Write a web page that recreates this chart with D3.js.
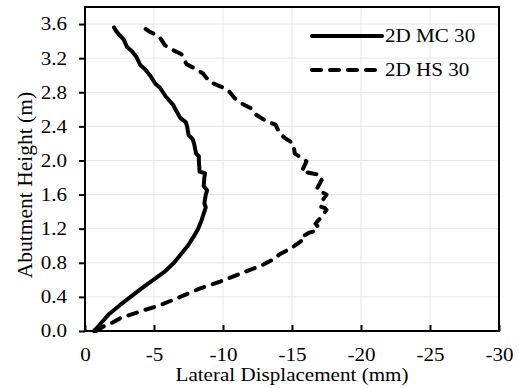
<!DOCTYPE html>
<html>
<head>
<meta charset="utf-8">
<script src="https://cdn.jsdelivr.net/npm/d3@7"></script>
<style>
  html, body { margin: 0; padding: 0; background: #fff; }
  svg { display: block; }
  text { font-family: "Liberation Serif", "Times New Roman", serif; fill: #000; }
</style>
</head>
<body>
<svg id="chart" width="519" height="388"></svg>
<script>
// ---- data ----
const xTicks = [0, -5, -10, -15, -20, -25, -30];
const xTickLabels = ["0", "-5", "-10", "-15", "-20", "-25", "-30"];
const yTicks = [0.0, 0.4, 0.8, 1.2, 1.6, 2.0, 2.4, 2.8, 3.2, 3.6];
const seriesNames = ["2D MC 30", "2D HS 30"];

const mcHeight = [0.00,0.05,0.10,0.20,0.30,0.40,0.50,0.60,0.70,0.80,0.90,1.00,1.10,1.20,1.30,1.40,1.45,1.50,1.60,1.65,1.70,1.80,1.85,1.87,2.00,2.05,2.08,2.20,2.25,2.30,2.40,2.45,2.50,2.60,2.65,2.75,2.85,2.90,3.00,3.07,3.12,3.22,3.28,3.33,3.42,3.48,3.52,3.56];
const mcDisp   = [-0.65,-0.95,-1.20,-1.75,-2.50,-3.30,-4.10,-4.95,-5.80,-6.45,-6.95,-7.45,-7.85,-8.20,-8.45,-8.65,-8.75,-8.65,-8.75,-8.85,-8.60,-8.65,-8.70,-8.30,-8.25,-8.25,-8.05,-7.90,-7.80,-7.50,-7.40,-7.30,-6.90,-6.55,-6.40,-5.85,-5.45,-5.10,-4.70,-4.35,-4.00,-3.70,-3.40,-3.05,-2.80,-2.45,-2.25,-2.10];

const hsHeight = [0.00,0.05,0.10,0.15,0.23,0.30,0.40,0.50,0.58,0.65,0.72,0.76,0.85,0.90,0.95,0.99,1.03,1.07,1.10,1.15,1.18,1.22,1.26,1.34,1.42,1.44,1.46,1.54,1.60,1.63,1.67,1.77,1.83,1.85,1.87,1.99,2.03,2.08,2.20,2.26,2.32,2.42,2.455,2.53,2.61,2.66,2.73,2.83,2.87,2.92,3.02,3.08,3.13,3.245,3.30,3.35,3.45,3.51,3.557];
const hsDisp   = [-0.80,-1.30,-2.00,-2.55,-4.00,-5.40,-6.90,-8.35,-9.80,-10.90,-12.00,-12.70,-13.75,-14.10,-14.70,-15.10,-15.45,-15.80,-15.70,-16.20,-16.80,-16.90,-16.70,-17.15,-17.50,-17.40,-17.05,-17.25,-17.50,-17.15,-16.80,-17.15,-17.05,-16.40,-15.70,-16.05,-15.70,-15.20,-15.10,-14.50,-14.10,-13.80,-13.20,-12.45,-12.05,-11.45,-10.85,-10.35,-9.80,-9.05,-8.55,-7.95,-7.35,-7.00,-6.30,-5.80,-5.40,-4.70,-4.25];

// ---- layout ----
const W = 519, H = 388;
const margin = { top: 7, right: 20, bottom: 57, left: 85 };
const iw = W - margin.left - margin.right;
const ih = H - margin.top - margin.bottom;
const FS = 18.5, SX = 1.14;

const svg = d3.select("#chart");
const g = svg.append("g").attr("transform", `translate(${margin.left},${margin.top})`);

const x = d3.scaleLinear().domain([0, -30]).range([0, iw]);
const y = d3.scaleLinear().domain([0, 3.8]).range([ih, 0]);

// grid
g.append("g").selectAll("line.v").data(xTicks.slice(1, -1)).join("line")
  .attr("x1", d => x(d)).attr("x2", d => x(d)).attr("y1", 0).attr("y2", ih)
  .attr("stroke", "#e6e6e6").attr("stroke-width", 1);
g.append("g").selectAll("line.h").data(yTicks.slice(1)).join("line")
  .attr("x1", 0).attr("x2", iw).attr("y1", d => y(d)).attr("y2", d => y(d))
  .attr("stroke", "#e6e6e6").attr("stroke-width", 1);

// curves
const line = d3.line().x(d => x(d[1])).y(d => y(d[0]));
const mcData = mcHeight.map((h, i) => [h, mcDisp[i]]);
const hsData = hsHeight.map((h, i) => [h, hsDisp[i]]);

g.append("path").datum(mcData).attr("d", line)
  .attr("fill", "none").attr("stroke", "#000").attr("stroke-width", 4)
  .attr("stroke-linejoin", "round").attr("stroke-linecap", "round");
g.append("path").datum(hsData).attr("d", line)
  .attr("fill", "none").attr("stroke", "#000").attr("stroke-width", 4)
  .attr("stroke-dasharray", "9,9")
  .attr("stroke-linejoin", "round").attr("stroke-linecap", "round");

// axes
const xAxis = g.append("g").attr("transform", `translate(0,${ih})`)
  .call(d3.axisBottom(x).tickValues(xTicks).tickSize(-6).tickPadding(17)
    .tickFormat((d, i) => xTickLabels[i]));
xAxis.select(".domain").remove();
xAxis.selectAll(".tick line").attr("stroke", "#000").attr("stroke-width", 2);
xAxis.selectAll(".tick text").attr("font-size", FS).attr("font-family", null)
  .attr("transform", `scale(${SX},1)`);

const yAxis = g.append("g")
  .call(d3.axisLeft(y).tickValues(yTicks).tickSize(6).tickPadding(12).tickFormat(d3.format(".1f")));
yAxis.select(".domain").remove();
yAxis.selectAll(".tick line").attr("stroke", "#000").attr("stroke-width", 2);
yAxis.selectAll(".tick text").attr("font-size", FS).attr("font-family", null)
  .attr("x", -18 / SX).attr("transform", `scale(${SX},1)`);

// frame
g.append("rect").attr("x", 0).attr("y", 0).attr("width", iw).attr("height", ih)
  .attr("fill", "none").attr("stroke", "#000").attr("stroke-width", 2);

// axis titles
svg.append("text")
  .attr("transform", `translate(${margin.left + iw / 2},381) scale(${SX},1)`)
  .attr("text-anchor", "middle").attr("font-size", FS)
  .text("Lateral Displacement (mm)");
svg.append("text")
  .attr("transform", `translate(32,185) rotate(-90)`)
  .attr("text-anchor", "middle").attr("font-size", 21.5)
  .text("Abutment Height (m)");

// legend
const legend = svg.append("g");
const legRows = [
  { name: seriesNames[0], dash: null, yy: 36 },
  { name: seriesNames[1], dash: "9,9", yy: 70 }
];
legRows.forEach(r => {
  legend.append("line").attr("x1", 312).attr("x2", 382).attr("y1", r.yy).attr("y2", r.yy)
    .attr("stroke", "#000").attr("stroke-width", 4).attr("stroke-linecap", "round")
    .attr("stroke-dasharray", r.dash);
  legend.append("text")
    .attr("transform", `translate(385,${r.yy + 6}) scale(${SX},1)`)
    .attr("font-size", FS).text(r.name);
});
</script>
</body>
</html>
